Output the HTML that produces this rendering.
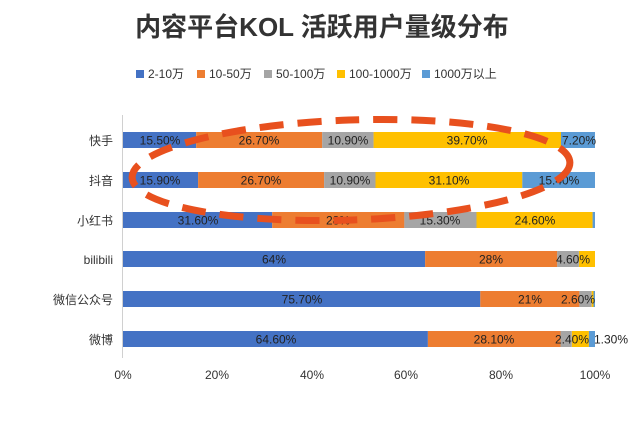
<!DOCTYPE html>
<html><head><meta charset="utf-8"><style>
body{margin:0;background:#fff;}
svg text{font-family:"Liberation Sans","Noto Sans CJK SC",sans-serif;}
</style></head><body>
<svg width="640" height="428" viewBox="0 0 640 428" xmlns="http://www.w3.org/2000/svg">
<rect width="640" height="428" fill="#fff"/>
<text x="322" y="36" text-anchor="middle" font-size="26" font-weight="bold" fill="#333">内容平台KOL 活跃用户量级分布</text>
<g font-size="12" fill="#333">
<rect x="136" y="70" width="8" height="8" fill="#4472c4"/><text x="148" y="78">2-10万</text>
<rect x="197" y="70" width="8" height="8" fill="#ed7d31"/><text x="209" y="78">10-50万</text>
<rect x="264" y="70" width="8" height="8" fill="#a5a5a5"/><text x="276" y="78">50-100万</text>
<rect x="337" y="70" width="8" height="8" fill="#ffc000"/><text x="349" y="78">100-1000万</text>
<rect x="422" y="70" width="8" height="8" fill="#5b9bd5"/><text x="434" y="78">1000万以上</text>
</g>
<line x1="122.5" y1="115" x2="122.5" y2="358" stroke="#d0d0d0"/>
<g>
<rect x="123" y="132" width="73.2" height="16" fill="#4472c4"/>
<rect x="196.2" y="132" width="126" height="16" fill="#ed7d31"/>
<rect x="322.2" y="132" width="51.5" height="16" fill="#a5a5a5"/>
<rect x="373.6" y="132" width="187.4" height="16" fill="#ffc000"/>
<rect x="561" y="132" width="34" height="16" fill="#5b9bd5"/>

<rect x="123" y="172" width="75.1" height="16" fill="#4472c4"/>
<rect x="198.1" y="172" width="126" height="16" fill="#ed7d31"/>
<rect x="324.1" y="172" width="51.5" height="16" fill="#a5a5a5"/>
<rect x="375.5" y="172" width="146.8" height="16" fill="#ffc000"/>
<rect x="522.3" y="172" width="72.7" height="16" fill="#5b9bd5"/>

<rect x="123" y="212" width="149.2" height="16" fill="#4472c4"/>
<rect x="272.2" y="212" width="132.2" height="16" fill="#ed7d31"/>
<rect x="404.3" y="212" width="72.2" height="16" fill="#a5a5a5"/>
<rect x="476.5" y="212" width="116.1" height="16" fill="#ffc000"/>
<rect x="592.6" y="212" width="2.4" height="16" fill="#5b9bd5"/>

<rect x="123" y="251" width="302.1" height="16" fill="#4472c4"/>
<rect x="425.1" y="251" width="132.2" height="16" fill="#ed7d31"/>
<rect x="557.2" y="251" width="21.7" height="16" fill="#a5a5a5"/>
<rect x="579" y="251" width="16" height="16" fill="#ffc000"/>

<rect x="123" y="291" width="357.3" height="16" fill="#4472c4"/>
<rect x="480.3" y="291" width="99.1" height="16" fill="#ed7d31"/>
<rect x="579.4" y="291" width="12.3" height="16" fill="#a5a5a5"/>
<rect x="591.7" y="291" width="1.8" height="16" fill="#ffc000"/>
<rect x="593.5" y="291" width="1.5" height="16" fill="#5b9bd5"/>

<rect x="123" y="331" width="304.9" height="16" fill="#4472c4"/>
<rect x="427.9" y="331" width="132.6" height="16" fill="#ed7d31"/>
<rect x="560.5" y="331" width="11.3" height="16" fill="#a5a5a5"/>
<rect x="571.9" y="331" width="17" height="16" fill="#ffc000"/>
<rect x="588.9" y="331" width="6.1" height="16" fill="#5b9bd5"/>
</g>
<g font-size="12" fill="#222" text-anchor="middle">
<text x="160" y="144.5">15.50%</text><text x="259" y="144.5">26.70%</text><text x="348" y="144.5">10.90%</text><text x="467" y="144.5">39.70%</text><text x="579" y="144.5">7.20%</text>
<text x="160" y="184.5">15.90%</text><text x="261" y="184.5">26.70%</text><text x="350" y="184.5">10.90%</text><text x="449" y="184.5">31.10%</text><text x="559" y="184.5">15.40%</text>
<text x="198" y="224.5">31.60%</text><text x="338" y="224.5">28%</text><text x="440" y="224.5">15.30%</text><text x="535" y="224.5">24.60%</text>
<text x="274" y="263.5">64%</text><text x="491" y="263.5">28%</text><text x="573" y="263.5">4.60%</text>
<text x="302" y="303.5">75.70%</text><text x="530" y="303.5">21%</text><text x="578" y="303.5">2.60%</text>
<text x="276" y="343.5">64.60%</text><text x="494" y="343.5">28.10%</text><text x="572" y="343.5">2.40%</text><text x="611" y="343.5">1.30%</text>
</g>
<g font-size="12" fill="#333" text-anchor="end">
<text x="113" y="145">快手</text><text x="113" y="185">抖音</text><text x="113" y="225">小红书</text>
<text x="113" y="264">bilibili</text><text x="113" y="304">微信公众号</text><text x="113" y="344">微博</text>
</g>
<g font-size="12" fill="#333" text-anchor="middle">
<text x="123" y="379">0%</text><text x="217" y="379">20%</text><text x="312" y="379">40%</text>
<text x="406" y="379">60%</text><text x="501" y="379">80%</text><text x="595" y="379">100%</text>
</g>
<ellipse cx="351" cy="170" rx="219" ry="50" fill="none" stroke="#e8501e" stroke-width="7" stroke-dasharray="24 14" transform="rotate(-2 351 170)"/>
</svg>
</body></html>
